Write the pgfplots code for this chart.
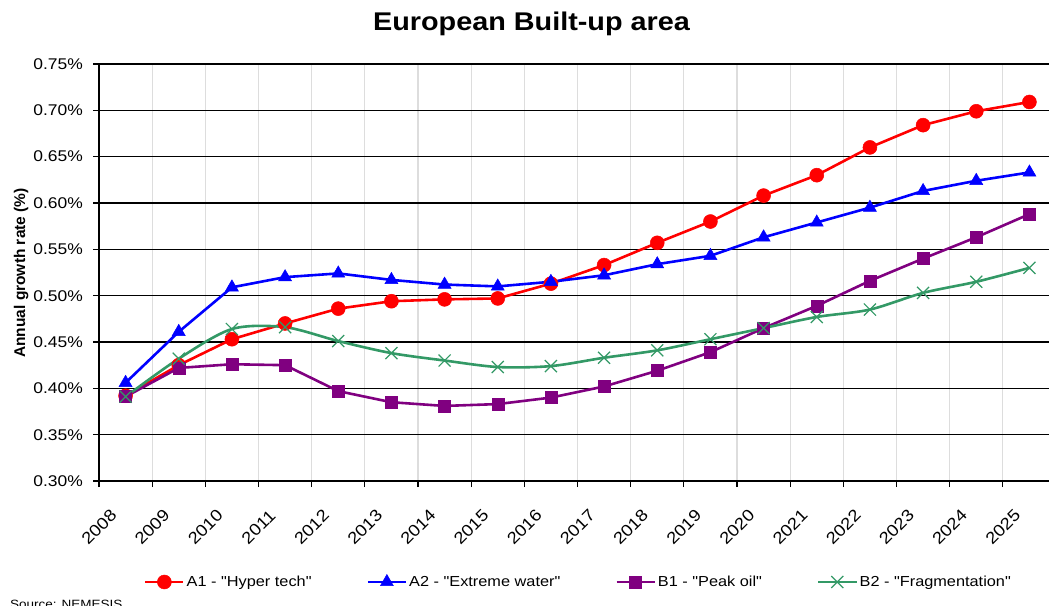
\documentclass[border=0pt]{standalone}
\usepackage{pgfplots}
\pgfplotsset{compat=1.18}
\usepackage{fontspec}
\setmainfont{Liberation Sans}[FakeStretch=1.125]
\newfontfamily\mainsans{Liberation Sans}[FakeStretch=1.125]
\newfontfamily\plainsans{Liberation Sans}
\definecolor{xlgreen}{HTML}{339966}
\definecolor{xlpurple}{HTML}{800080}
\definecolor{gridgray}{HTML}{DDDDDD}
\begin{document}
\begin{tikzpicture}
\path[use as bounding box] (0pt,0pt) rectangle (1049pt,605pt);
\clip (0pt,0pt) rectangle (1049pt,605pt);
\node[anchor=base, font=\fontsize{25.6}{30}\selectfont\bfseries] at (531.5pt,574pt) {European Built-up area};
\node[anchor=base, rotate=90, font=\plainsans\fontsize{15.5}{18}\selectfont\bfseries] at (25pt,332pt) {Annual growth rate (\%)};
\node[anchor=base west, inner sep=0pt, font=\fontsize{12}{14}\selectfont] at (10pt,-3.5pt) {Source: NEMESIS};
\begin{axis}[
  at={(99pt,124pt)}, anchor=south west,
  scale only axis, width=957pt, height=417pt,
  xmin=2008, xmax=2026, ymin=0.30, ymax=0.75,
  axis x line*=bottom, axis y line*=left,
  axis line style={line width=2pt, black},
  xtick={2008,2009,2010,2011,2012,2013,2014,2015,2016,2017,2018,2019,2020,2021,2022,2023,2024,2025},
  xticklabels={2008,2009,2010,2011,2012,2013,2014,2015,2016,2017,2018,2019,2020,2021,2022,2023,2024,2025},
  ytick={0.30,0.35,0.40,0.45,0.50,0.55,0.60,0.65,0.70,0.75},
  yticklabels={0.30\%,0.35\%,0.40\%,0.45\%,0.50\%,0.55\%,0.60\%,0.65\%,0.70\%,0.75\%},
  tick align=outside, major tick length=6pt,
  tick style={black, line width=1.2pt},
  xticklabel style={rotate=45, anchor=center, font=\fontsize{16.5}{19}\selectfont},
  xticklabel shift=40pt,
  yticklabel style={anchor=east, inner sep=0pt, font=\fontsize{15.5}{18}\selectfont},
  yticklabel shift=10pt,
  xmajorgrids, ymajorgrids,
  x grid style={draw=gridgray, line width=1.1pt},
  y grid style={draw=black, line width=1.3pt},
  legend columns=4,
  legend style={draw=none, fill=none, at={(0.501,-0.2422)}, anchor=center,
    font=\mainsans\fontsize{14.5}{17}\selectfont,
    /tikz/every even column/.append style={column sep=53pt}},
  legend image code/.code={\draw[mark repeat=2,mark phase=2,#1] plot coordinates {(0pt,0pt) (19pt,0pt) (38pt,0pt)};},
]
\addplot[red, line width=2.6pt, mark=*, mark size=7pt, mark options={solid, fill=red, draw=red, line width=0.5pt}] coordinates {
(2008.5,0.392) (2009.5,0.425) (2010.5,0.453) (2011.5,0.470) (2012.5,0.486) (2013.5,0.494)
(2014.5,0.496) (2015.5,0.497) (2016.5,0.513) (2017.5,0.533) (2018.5,0.557) (2019.5,0.580)
(2020.5,0.608) (2021.5,0.630) (2022.5,0.660) (2023.5,0.684) (2024.5,0.699) (2025.5,0.709)};
\addlegendentry{A1 - "Hyper tech"}
\addplot[blue, line width=2.6pt, mark=triangle*, mark size=7.5pt, mark options={solid, fill=blue, draw=blue, line width=0.5pt}] coordinates {
(2008.5,0.406) (2009.5,0.461) (2010.5,0.509) (2011.5,0.520) (2012.5,0.524) (2013.5,0.517)
(2014.5,0.512) (2015.5,0.510) (2016.5,0.515) (2017.5,0.522) (2018.5,0.534) (2019.5,0.543)
(2020.5,0.563) (2021.5,0.579) (2022.5,0.595) (2023.5,0.613) (2024.5,0.624) (2025.5,0.633)};
\addlegendentry{A2 - "Extreme water"}
\addplot[xlpurple, line width=2.6pt, mark=square*, mark size=6pt, mark options={solid, fill=xlpurple, draw=xlpurple, line width=0.5pt}] coordinates {
(2008.5,0.391) (2009.5,0.422) (2010.5,0.426) (2011.5,0.425) (2012.5,0.397) (2013.5,0.385)
(2014.5,0.381) (2015.5,0.383) (2016.5,0.390) (2017.5,0.402) (2018.5,0.419) (2019.5,0.439)
(2020.5,0.465) (2021.5,0.489) (2022.5,0.516) (2023.5,0.540) (2024.5,0.563) (2025.5,0.588)};
\addlegendentry{B1 - "Peak oil"}
\addplot[xlgreen, line width=2.6pt, smooth, tension=0.5, mark=x, mark size=8.5pt, mark options={solid, draw=xlgreen, line width=1.2pt}] coordinates {
(2008.5,0.391) (2009.5,0.432) (2010.5,0.464) (2011.5,0.466) (2012.5,0.451) (2013.5,0.438)
(2014.5,0.430) (2015.5,0.423) (2016.5,0.424) (2017.5,0.433) (2018.5,0.441) (2019.5,0.453)
(2020.5,0.465) (2021.5,0.477) (2022.5,0.485) (2023.5,0.503) (2024.5,0.515) (2025.5,0.530)};
\addlegendentry{B2 - "Fragmentation"}
\end{axis}
\end{tikzpicture}
\end{document}
